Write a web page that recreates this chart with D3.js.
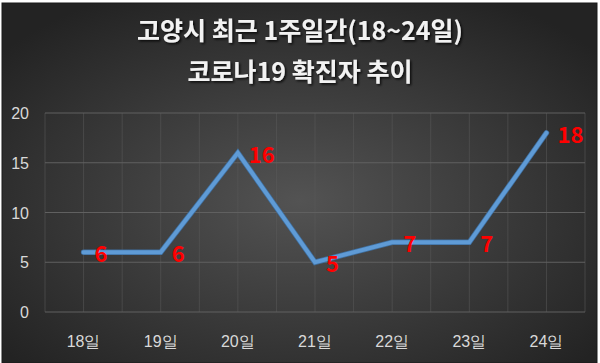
<!DOCTYPE html>
<html>
<head>
<meta charset="utf-8">
<script src="https://cdn.jsdelivr.net/npm/d3@7/dist/d3.min.js"></script>
<style>
  html, body { margin: 0; padding: 0; background: #fff; }
  svg { display: block; font-family: "Noto Sans CJK KR", "Noto Sans", sans-serif; }
</style>
</head>
<body>
<svg id="chart" width="600" height="363"></svg>
<script>
// data
var days   = ["18일", "19일", "20일", "21일", "22일", "23일", "24일"];
var cases  = [6, 6, 16, 5, 7, 7, 18];
var yTicks = [0, 5, 10, 15, 20];
var titleLines = ["고양시 최근 1주일간(18~24일)", "코로나19 확진자 추이"];

var W = 600, H = 363;
var plot = {left: 45, right: 585, top: 113, bottom: 312};

var svg = d3.select("#chart");
var defs = svg.append("defs");

var grad = defs.append("radialGradient").attr("id", "bg")
  .attr("cx", "50%").attr("cy", "55%").attr("r", "65%");
grad.append("stop").attr("offset", "0%").attr("stop-color", "#535353");
grad.append("stop").attr("offset", "100%").attr("stop-color", "#232323");

var shadow = defs.append("filter").attr("id", "shadow")
  .attr("x", "-10%").attr("y", "-30%").attr("width", "120%").attr("height", "160%");
shadow.append("feDropShadow").attr("dx", 1.5).attr("dy", 1.5)
  .attr("stdDeviation", 1).attr("flood-color", "#000").attr("flood-opacity", 0.8);

// frame
svg.append("rect").attr("x", 2).attr("y", 3).attr("width", W - 5).attr("height", H - 3)
  .attr("fill", "url(#bg)").attr("stroke", "#1a1a1a").attr("stroke-width", 1);

var x = d3.scaleBand().domain(days).range([plot.left, plot.right]);
var y = d3.scaleLinear().domain([0, 20]).range([plot.bottom, plot.top]);

// grid
var g = svg.append("g").attr("class", "grid");
var half = d3.range(0, days.length * 2 + 1).map(function(i) { return plot.left + i * x.bandwidth() / 2; });
g.selectAll(".vg").data(half).enter().append("line")
  .attr("x1", function(d) { return d; }).attr("x2", function(d) { return d; })
  .attr("y1", plot.top).attr("y2", plot.bottom)
  .attr("stroke", "#5a5a5a").attr("stroke-width", 0.8).attr("stroke-opacity", 0.7);
g.selectAll(".hg").data(yTicks).enter().append("line")
  .attr("x1", plot.left).attr("x2", plot.right)
  .attr("y1", function(d) { return y(d); }).attr("y2", function(d) { return y(d); })
  .attr("stroke", "#606060").attr("stroke-width", 1);

// axes
var yAxis = svg.append("g").attr("transform", "translate(29,0)")
  .call(d3.axisLeft(y).tickValues(yTicks).tickSize(0).tickPadding(0));
yAxis.select(".domain").remove();
yAxis.selectAll("text").attr("fill", "#d9d9d9").attr("font-size", 16).attr("dy", "0.35em");

var xAxis = svg.append("g").attr("transform", "translate(0," + plot.bottom + ")")
  .call(d3.axisBottom(x).tickSize(0).tickPadding(0));
xAxis.select(".domain").remove();
xAxis.selectAll("text").attr("fill", "#d9d9d9").attr("font-size", 16).attr("dy", 0).attr("y", 35);

// line
var cx = function(d, i) { return x(days[i]) + x.bandwidth() / 2; };
var line = d3.line().x(cx).y(function(d) { return y(d); });
svg.append("path").datum(cases).attr("d", line)
  .attr("fill", "none").attr("stroke", "#3f6f9f").attr("stroke-width", 5.5)
  .attr("stroke-linejoin", "miter").attr("stroke-linecap", "round");
svg.append("path").datum(cases).attr("d", line)
  .attr("fill", "none").attr("stroke", "#5f9bd6").attr("stroke-width", 4)
  .attr("stroke-linejoin", "miter").attr("stroke-linecap", "round");

// labels
svg.selectAll(".lbl").data(cases).enter().append("text")
  .attr("x", function(d, i) { return cx(d, i) + 11; })
  .attr("y", function(d) { return y(d) + 10; })
  .attr("fill", "#ff0000").attr("font-weight", "bold").attr("font-size", 22)
  .text(function(d) { return d; });

// title
svg.selectAll(".title").data(titleLines).enter().append("text")
  .attr("x", 300).attr("y", function(d, i) { return 40 + i * 41; })
  .attr("text-anchor", "middle").attr("fill", "#f2f2f2")
  .attr("font-weight", "bold").attr("font-size", 25)
  .attr("filter", "url(#shadow)")
  .text(function(d) { return d; });
</script>
</body>
</html>
